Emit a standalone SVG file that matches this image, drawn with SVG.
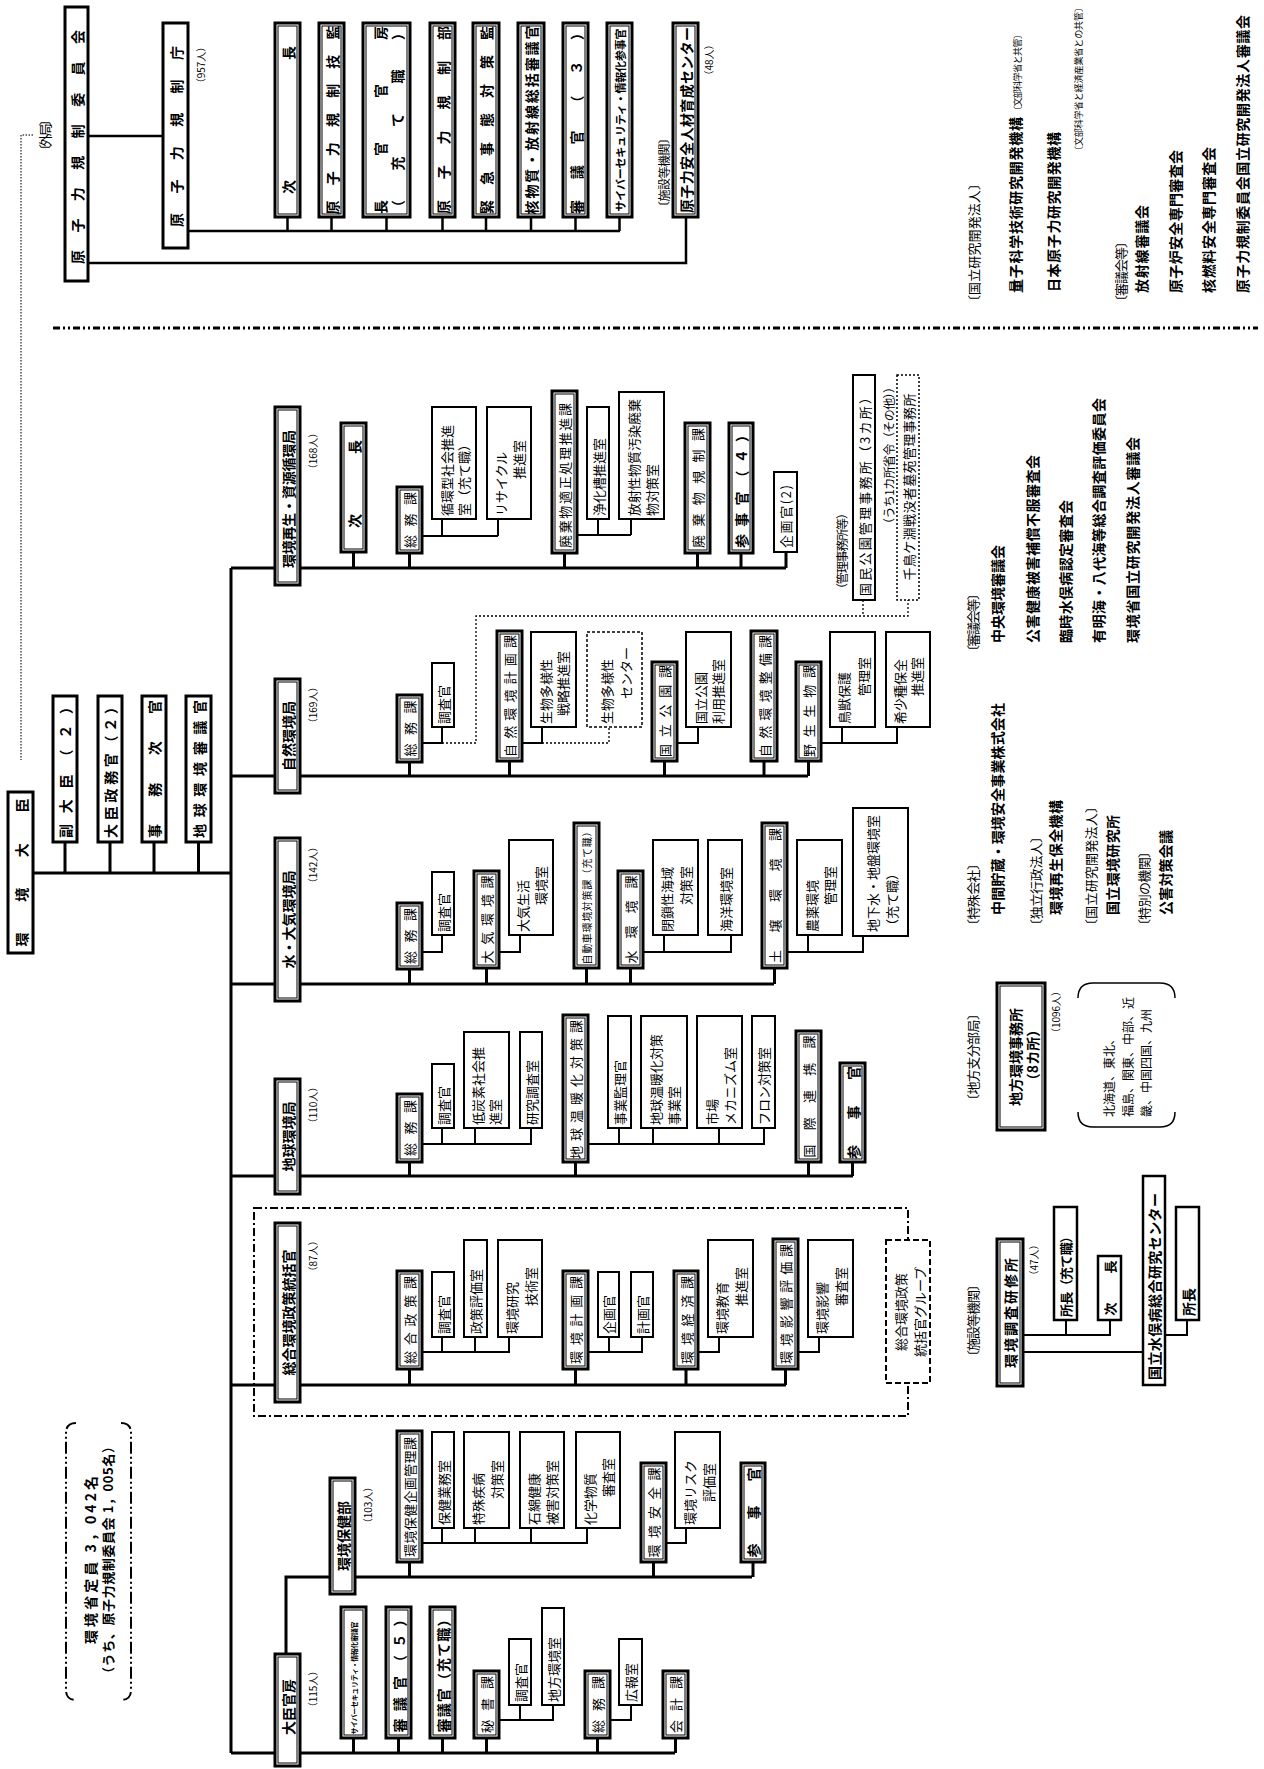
<svg xmlns="http://www.w3.org/2000/svg" width="1264" height="1769" viewBox="0 0 1264 1769">
<style>
text{font-family:"Noto Sans CJK JP","Noto Sans CJK SC",sans-serif;font-size:13px;fill:#000;text-anchor:middle;dominant-baseline:central}
.b{font-weight:bold}
.s{text-anchor:start}
.e{text-anchor:end}
.f14{font-size:14px}
.f12{font-size:12px}
.f11{font-size:11px}
.f10{font-size:10px}
.f9{font-size:9px}
.f7{font-size:7px}
.k{fill:#fff;stroke:#000;stroke-width:3}
.k2{fill:#fff;stroke:#000;stroke-width:2.5}
.in{fill:none;stroke:#000;stroke-width:1}
.r{fill:#fff;stroke:#000;stroke-width:2}
.dr{fill:#fff;stroke:#000;stroke-width:1.5;stroke-dasharray:3 2}
.w3{stroke:#000;stroke-width:3;fill:none}
.w25{stroke:#000;stroke-width:2.5;fill:none}
.w2{stroke:#000;stroke-width:2;fill:none}
.dot{stroke:#000;stroke-width:1.3;stroke-dasharray:2 2;fill:none}
</style>
<rect width="1264" height="1769" fill="#fff"/>

<g id="connectors">
<path class="w25" d="M88 136H163 M188 231H620 M287.5 217V231 M331.5 217V231 M386.5 217V231 M442.5 217V231 M486 217V231 M531 217V231 M575.5 217V231 M619.5 217V231 M88 263H686V217"/>
<path d="M33 135H21V760" stroke="#777" stroke-width="2" stroke-dasharray="1.5 1.5" fill="none"/>
<path class="w3" d="M33 873H231 M65 842V873 M110 842V873 M154 842V873 M198.5 842V873 M231 568V1753"/>
<path class="w3" d="M231 568H786 M231 776H808 M231 984H774 M231 1176H853 M231 1385H786 M231 1753H675 M286 1654V1577H752"/>
<path class="w3" d="M353.5 552V568 M409.5 553V568 M564.5 553V568 M697.5 553V568 M741 553V568 M786 552V568"/>
<path class="w3" d="M409.5 762V776 M509.5 761V776 M664.5 761V776 M764 761V776 M808.5 761V776"/>
<path class="w3" d="M409.5 969V984 M486.5 968V984 M586.5 968V984 M630.5 968V984 M774.5 968V984"/>
<path class="w3" d="M409.5 1162V1176 M575.5 1162V1176 M808.5 1162V1176 M852.5 1162V1176"/>
<path class="w3" d="M409.5 1369V1385 M575.5 1369V1385 M686 1369V1385 M785.5 1369V1385"/>
<path class="w3" d="M409.5 1562V1577 M653.5 1562V1577 M753 1562V1577"/>
<path class="w3" d="M353.5 1738V1753 M398.5 1738V1753 M442.5 1738V1753 M486.5 1738V1753 M597.5 1738V1753 M675.5 1738V1753"/>
<path class="w2" d="M422 536H498 M442 519V536 M498 519V536 M577 535H631 M598 519V535 M631 519V535"/>
<path class="w2" d="M422 743H442V727 M522 743H542V727 M677 743H698V727 M821 743H897V727 M842 727V743"/>
<path class="dot" d="M442 743H476V616H908V600 M863 600V616 M542 743H609V727"/>
<path class="w2" d="M422 952H442V935 M499 952H520V935 M643 952H731V935 M664 935V952 M787 952H863V936 M808 935V952"/>
<path class="w2" d="M422 1144H531V1128 M442 1128V1144 M475 1128V1144 M588 1144H764V1128 M619 1128V1144 M653 1128V1144 M719 1128V1144"/>
<path class="w2" d="M422 1352H509V1337 M442 1337V1352 M475 1337V1352 M588 1352H642V1337 M609 1337V1352 M698 1352H719V1337 M798 1352H819V1337"/>
<path class="w2" d="M422 1543H587V1528 M442 1528V1543 M475 1528V1543 M531 1528V1543 M666 1543H686V1528"/>
<path class="w2" d="M499 1720H553V1705 M520 1705V1720 M610 1720H631V1705"/>
<path class="w2" d="M1023 1335H1110V1320 M1066 1320V1335 M1023 1352H1143 M1165 1335H1187V1320"/>
</g>

<path d="M53 328H1258" stroke="#000" stroke-width="3" stroke-dasharray="7 3 2 3 2 3" fill="none"/>
<rect x="254" y="1208" width="654" height="208" fill="none" stroke="#000" stroke-width="2" stroke-dasharray="8 3 2 3"/>

<!-- Nuclear Regulation Authority -->
<text class="f13" textLength="44" transform="translate(44 135) rotate(-90)">〔外局〕</text>
<g id="n-nra"><rect class="k" x="65" y="7" width="23" height="274"/><text class="b f14" textLength="234" transform="translate(76.5 147) rotate(-90)">原子力規制委員会</text></g>
<g id="n-nrasec"><rect class="k" x="163" y="23" width="25" height="225"/><text class="b f14" textLength="181" transform="translate(175.5 136.5) rotate(-90)">原子力規制庁</text></g>
<text class="f10" transform="translate(200 65) rotate(-90)">（957人）</text>
<g id="n-nra-jicho"><rect class="k" x="275" y="23" width="25" height="194"/><rect class="in" x="278" y="26" width="19" height="188"/><text class="b f14" textLength="148" transform="translate(287.5 120) rotate(-90)">次長</text></g>
<g id="n-nra-gikan"><rect class="k" x="319" y="23" width="25" height="194"/><rect class="in" x="322" y="26" width="19" height="188"/><text class="b f14" textLength="189" transform="translate(331.5 120) rotate(-90)">原子力規制技監</text></g>
<g id="n-nra-kanbo"><rect class="k" x="363" y="23" width="47" height="194"/><rect class="in" x="366" y="26" width="41" height="188"/><text class="b f14" textLength="188" transform="translate(380 120) rotate(-90)">長官官房</text><text class="b f14" textLength="188" transform="translate(397 120) rotate(-90)">（充て職）</text></g>
<g id="n-nra-kiseibu"><rect class="k" x="430" y="23" width="25" height="194"/><rect class="in" x="433" y="26" width="19" height="188"/><text class="b f14" textLength="188" transform="translate(442.5 120) rotate(-90)">原子力規制部</text></g>
<g id="n-nra-kinkyu"><rect class="k" x="473" y="23" width="26" height="194"/><rect class="in" x="476" y="26" width="20" height="188"/><text class="b f14" textLength="188" transform="translate(486 120) rotate(-90)">緊急事態対策監</text></g>
<g id="n-nra-kaku"><rect class="k" x="518" y="23" width="26" height="194"/><rect class="in" x="521" y="26" width="20" height="188"/><text class="b f14" textLength="189" transform="translate(531 120) rotate(-90)">核物質・放射線総括審議官</text></g>
<g id="n-nra-shingikan"><rect class="k" x="563" y="23" width="25" height="194"/><rect class="in" x="566" y="26" width="19" height="188"/><text class="b f14" textLength="188" transform="translate(575.5 120) rotate(-90)">審議官（３）</text></g>
<g id="n-nra-cyber"><rect class="k" x="607" y="23" width="25" height="194"/><rect class="in" x="610" y="26" width="19" height="188"/><text class="b f11" textLength="183" transform="translate(619.5 120) rotate(-90)">サイバーセキュリティ・情報化参事官</text></g>
<text class="f12" textLength="81" transform="translate(663 172.5) rotate(-90)">〔施設等機関〕</text>
<g id="n-nra-center"><rect class="k" x="673" y="23" width="25" height="194"/><rect class="in" x="676" y="26" width="19" height="188"/><text class="b f14" textLength="186" transform="translate(685.5 120) rotate(-90)">原子力安全人材育成センター</text></g>
<text class="f10" transform="translate(708 60) rotate(-90)">（48人）</text>

<!-- Ministry top -->
<g id="n-minister"><rect class="k" x="8" y="792" width="25" height="161"/><text class="b f14" textLength="148" transform="translate(20.5 872.5) rotate(-90)">環境大臣</text></g>
<g id="n-vice"><rect class="k" x="53" y="696" width="24" height="146"/><text class="b f14" textLength="138" transform="translate(65 769) rotate(-90)">副大臣（２）</text></g>
<g id="n-seimukan"><rect class="k" x="98" y="696" width="24" height="146"/><text class="b f14" textLength="138" transform="translate(110 769) rotate(-90)">大臣政務官（２）</text></g>
<g id="n-jikan"><rect class="k" x="142" y="696" width="24" height="146"/><text class="b f14" textLength="138" transform="translate(154 769) rotate(-90)">事務次官</text></g>
<g id="n-chikyu-shingikan"><rect class="k" x="186" y="696" width="25" height="146"/><text class="b f14" textLength="138" transform="translate(198.5 769) rotate(-90)">地球環境審議官</text></g>

<!-- Bureaus -->
<g id="b-saisei"><rect class="k" x="275" y="407" width="25" height="178"/><rect class="in" x="278" y="410" width="19" height="172"/><text class="b f14" textLength="138" transform="translate(287.5 499) rotate(-90)">環境再生・資源循環局</text></g>
<text class="f10" transform="translate(312 451) rotate(-90)">（168人）</text>
<g id="b-shizen"><rect class="k" x="275" y="679" width="25" height="114"/><rect class="in" x="278" y="682" width="19" height="108"/><text class="b f14" transform="translate(287.5 736) rotate(-90)">自然環境局</text></g>
<text class="f10" transform="translate(312 705) rotate(-90)">（169人）</text>
<g id="b-mizu"><rect class="k" x="275" y="838" width="25" height="163"/><rect class="in" x="278" y="841" width="19" height="157"/><text class="b f14" transform="translate(287.5 919.5) rotate(-90)">水・大気環境局</text></g>
<text class="f10" transform="translate(312 865) rotate(-90)">（142人）</text>
<g id="b-chikyu"><rect class="k" x="275" y="1079" width="25" height="115"/><rect class="in" x="278" y="1082" width="19" height="109"/><text class="b f14" transform="translate(287.5 1136.5) rotate(-90)">地球環境局</text></g>
<text class="f10" transform="translate(312 1105) rotate(-90)">（110人）</text>
<g id="b-sogo"><rect class="k" x="275" y="1223" width="25" height="179"/><rect class="in" x="278" y="1226" width="19" height="173"/><text class="b f14" transform="translate(287.5 1312.5) rotate(-90)">総合環境政策統括官</text></g>
<text class="f10" transform="translate(312 1256) rotate(-90)">（87人）</text>
<g id="b-hoken"><rect class="k" x="330" y="1478" width="25" height="116"/><rect class="in" x="333" y="1481" width="19" height="110"/><text class="b f14" transform="translate(342.5 1536) rotate(-90)">環境保健部</text></g>
<text class="f10" transform="translate(367 1505) rotate(-90)">（103人）</text>
<g id="b-kanbo"><rect class="k" x="275" y="1654" width="25" height="112"/><rect class="in" x="278" y="1657" width="19" height="106"/><text class="b f14" transform="translate(287.5 1707) rotate(-90)">大臣官房</text></g>
<text class="f10" transform="translate(312 1689) rotate(-90)">（115人）</text>

<!-- Row 1 -->
<g id="r1-jicho"><rect class="k" x="341" y="423" width="25" height="129"/><rect class="in" x="344" y="426" width="19" height="123"/><text class="b f14" textLength="88" transform="translate(353.5 484) rotate(-90)">次長</text></g>
<g id="r1-somu"><rect class="k" x="397" y="487" width="25" height="66"/><rect class="in" x="400" y="490" width="19" height="60"/><text textLength="56" transform="translate(409.5 520) rotate(-90)">総務課</text></g>
<g id="r1-junkan"><rect class="r" x="432" y="407" width="44" height="112"/><text class="s" transform="translate(446 516) rotate(-90)">循環型社会推進</text><text class="s" transform="translate(463 516) rotate(-90)">室（充て職）</text></g>
<g id="r1-recycle"><rect class="r" x="487" y="407" width="44" height="112"/><text class="s" transform="translate(500 516) rotate(-90)">リサイクル</text><text class="e" transform="translate(518 440) rotate(-90)">推進室</text></g>
<g id="r1-tekisei"><rect class="k" x="552" y="391" width="25" height="162"/><rect class="in" x="555" y="394" width="19" height="156"/><text textLength="145" transform="translate(564.5 475.5) rotate(-90)">廃棄物適正処理推進課</text></g>
<g id="r1-jokaso"><rect class="r" x="587" y="407" width="22" height="112"/><text class="s" transform="translate(598 516) rotate(-90)">浄化槽推進室</text></g>
<g id="r1-hoshasei"><rect class="r" x="619" y="392" width="45" height="127"/><text class="s" transform="translate(633 516) rotate(-90)">放射性物質汚染廃棄</text><text class="s" transform="translate(651 516) rotate(-90)">物対策室</text></g>
<g id="r1-kisei"><rect class="k" x="685" y="423" width="25" height="130"/><rect class="in" x="688" y="426" width="19" height="124"/><text textLength="120" transform="translate(697.5 488) rotate(-90)">廃棄物規制課</text></g>
<g id="r1-sanjikan"><rect class="k" x="729" y="423" width="24" height="130"/><rect class="in" x="732" y="426" width="18" height="124"/><text class="b f14" textLength="120" transform="translate(741 488) rotate(-90)">参事官（４）</text></g>
<g id="r1-kikakukan"><rect class="r" x="774" y="472" width="23" height="80"/><text class="s" textLength="63" transform="translate(785.5 548) rotate(-90)">企画官(2)</text></g>
<text class="f12" textLength="88" transform="translate(841 551) rotate(-90)">（管理事務所等）</text>
<g id="r1-kokumin"><rect class="r" x="853" y="375" width="22" height="225"/><text class="s" textLength="205" transform="translate(864 596) rotate(-90)">国民公園管理事務所（3カ所）</text></g>
<text class="e f12" textLength="149" transform="translate(888 381) rotate(-90)">（うち1カ所省令（その他））</text>
<g id="r1-chidori"><rect x="897" y="375" width="22" height="225" fill="#fff" stroke="#000" stroke-width="1.5" stroke-dasharray="2 2"/><text textLength="187" transform="translate(908 487) rotate(-90)">千鳥ケ淵戦没者墓苑管理事務所</text></g>

<!-- Row 2 -->
<g id="r2-somu"><rect class="k" x="397" y="695" width="25" height="67"/><rect class="in" x="400" y="698" width="19" height="61"/><text textLength="56" transform="translate(409.5 728.5) rotate(-90)">総務課</text></g>
<g id="r2-chosakan"><rect class="r" x="432" y="663" width="22" height="64"/><text class="s" transform="translate(443 724) rotate(-90)">調査官</text></g>
<g id="r2-keikaku"><rect class="k" x="497" y="631" width="25" height="130"/><rect class="in" x="500" y="634" width="19" height="124"/><text textLength="122" transform="translate(509.5 696) rotate(-90)">自然環境計画課</text></g>
<g id="r2-senryaku"><rect class="r" x="531" y="632" width="45" height="95"/><text class="s" transform="translate(545 724) rotate(-90)">生物多様性</text><text class="s" transform="translate(562 716) rotate(-90)">戦略推進室</text></g>
<g id="r2-center"><rect class="dr" x="587" y="632" width="55" height="95"/><text class="s" transform="translate(606 724) rotate(-90)">生物多様性</text><text class="e" transform="translate(625 647) rotate(-90)">センター</text></g>
<g id="r2-kokuritsu"><rect class="k" x="652" y="662" width="25" height="99"/><rect class="in" x="655" y="665" width="19" height="93"/><text textLength="92" transform="translate(664.5 711) rotate(-90)">国立公園課</text></g>
<g id="r2-riyo"><rect class="r" x="686" y="632" width="45" height="95"/><text class="s" transform="translate(700 724) rotate(-90)">国立公園</text><text class="s" transform="translate(717 724) rotate(-90)">利用推進室</text></g>
<g id="r2-seibi"><rect class="k" x="751" y="631" width="26" height="130"/><rect class="in" x="754" y="634" width="20" height="124"/><text textLength="122" transform="translate(764 696) rotate(-90)">自然環境整備課</text></g>
<g id="r2-yasei"><rect class="k" x="796" y="662" width="25" height="99"/><rect class="in" x="799" y="665" width="19" height="93"/><text textLength="92" transform="translate(808.5 711) rotate(-90)">野生生物課</text></g>
<g id="r2-chojyu"><rect class="r" x="830" y="632" width="45" height="95"/><text class="s" transform="translate(843 724) rotate(-90)">鳥獣保護</text><text class="e" transform="translate(863 657) rotate(-90)">管理室</text></g>
<g id="r2-kisho"><rect class="r" x="886" y="632" width="44" height="95"/><text class="s" transform="translate(899 724) rotate(-90)">希少種保全</text><text class="e" transform="translate(916 657) rotate(-90)">推進室</text></g>

<!-- Row 3 -->
<g id="r3-somu"><rect class="k" x="397" y="903" width="25" height="66"/><rect class="in" x="400" y="906" width="19" height="60"/><text textLength="56" transform="translate(409.5 936) rotate(-90)">総務課</text></g>
<g id="r3-chosakan"><rect class="r" x="432" y="872" width="22" height="63"/><text class="s" transform="translate(443 932) rotate(-90)">調査官</text></g>
<g id="r3-taiki"><rect class="k" x="474" y="871" width="25" height="97"/><rect class="in" x="477" y="874" width="19" height="91"/><text textLength="88" transform="translate(486.5 919.5) rotate(-90)">大気環境課</text></g>
<g id="r3-seikatsu"><rect class="r" x="509" y="840" width="44" height="95"/><text class="s" transform="translate(522 932) rotate(-90)">大気生活</text><text class="e" transform="translate(540 866) rotate(-90)">環境室</text></g>
<g id="r3-jidosha"><rect class="k" x="574" y="823" width="25" height="145"/><rect class="in" x="577" y="826" width="19" height="139"/><text class="f10" textLength="138" transform="translate(586.5 895.5) rotate(-90)">自動車環境対策課（充て職）</text></g>
<g id="r3-mizu"><rect class="k" x="618" y="871" width="25" height="97"/><rect class="in" x="621" y="874" width="19" height="91"/><text textLength="88" transform="translate(630.5 919.5) rotate(-90)">水環境課</text></g>
<g id="r3-heisa"><rect class="r" x="653" y="840" width="45" height="95"/><text class="s" transform="translate(666 932) rotate(-90)">閉鎖性海域</text><text class="e" transform="translate(685 866) rotate(-90)">対策室</text></g>
<g id="r3-kaiyo"><rect class="r" x="708" y="840" width="34" height="95"/><text class="s" transform="translate(725 932) rotate(-90)">海洋環境室</text></g>
<g id="r3-dojo"><rect class="k" x="762" y="823" width="25" height="145"/><rect class="in" x="765" y="826" width="19" height="139"/><text textLength="135" transform="translate(774.5 895.5) rotate(-90)">土壌環境課</text></g>
<g id="r3-noyaku"><rect class="r" x="797" y="840" width="45" height="95"/><text class="s" transform="translate(811 932) rotate(-90)">農薬環境</text><text class="e" transform="translate(829 866) rotate(-90)">管理室</text></g>
<g id="r3-chika"><rect class="r" x="853" y="808" width="55" height="128"/><text class="s" transform="translate(872 932) rotate(-90)">地下水・地盤環境室</text><text class="s" transform="translate(891 932) rotate(-90)">（充て職）</text></g>

<!-- Row 4 -->
<g id="r4-somu"><rect class="k" x="397" y="1094" width="25" height="68"/><rect class="in" x="400" y="1097" width="19" height="62"/><text textLength="56" transform="translate(409.5 1128) rotate(-90)">総務課</text></g>
<g id="r4-chosakan"><rect class="r" x="432" y="1064" width="22" height="64"/><text class="s" transform="translate(443 1125) rotate(-90)">調査官</text></g>
<g id="r4-teitanso"><rect class="r" x="464" y="1032" width="45" height="96"/><text class="s" transform="translate(477 1125) rotate(-90)">低炭素社会推</text><text class="s" transform="translate(494 1125) rotate(-90)">進室</text></g>
<g id="r4-kenkyu"><rect class="r" x="520" y="1032" width="22" height="96"/><text class="s" transform="translate(531 1125) rotate(-90)">研究調査室</text></g>
<g id="r4-ondanka"><rect class="k" x="563" y="1015" width="25" height="147"/><rect class="in" x="566" y="1018" width="19" height="141"/><text textLength="139" transform="translate(575.5 1089.5) rotate(-90)">地球温暖化対策課</text></g>
<g id="r4-kanri"><rect class="r" x="608" y="1016" width="23" height="112"/><text class="s" transform="translate(619.5 1125) rotate(-90)">事業監理官</text></g>
<g id="r4-jigyo"><rect class="r" x="641" y="1016" width="46" height="112"/><text class="s" transform="translate(655 1125) rotate(-90)">地球温暖化対策</text><text class="s" transform="translate(673 1125) rotate(-90)">事業室</text></g>
<g id="r4-shijo"><rect class="r" x="697" y="1016" width="45" height="112"/><text class="s" transform="translate(711 1125) rotate(-90)">市場</text><text class="s" transform="translate(729 1125) rotate(-90)">メカニズム室</text></g>
<g id="r4-furon"><rect class="r" x="752" y="1016" width="23" height="112"/><text class="s" transform="translate(763.5 1125) rotate(-90)">フロン対策室</text></g>
<g id="r4-kokusai"><rect class="k" x="796" y="1031" width="25" height="131"/><rect class="in" x="799" y="1034" width="19" height="125"/><text textLength="122" transform="translate(808.5 1096.5) rotate(-90)">国際連携課</text></g>
<g id="r4-sanjikan"><rect class="k" x="840" y="1063" width="25" height="99"/><rect class="in" x="843" y="1066" width="19" height="93"/><text class="b f14" textLength="93" transform="translate(852.5 1112.5) rotate(-90)">参事官</text></g>

<!-- Row 5 -->
<g id="r5-sogo"><rect class="k" x="397" y="1271" width="25" height="98"/><rect class="in" x="400" y="1274" width="19" height="92"/><text textLength="88" transform="translate(409.5 1320) rotate(-90)">総合政策課</text></g>
<g id="r5-chosakan"><rect class="r" x="432" y="1272" width="22" height="65"/><text class="s" transform="translate(443 1334) rotate(-90)">調査官</text></g>
<g id="r5-hyoka"><rect class="r" x="464" y="1240" width="23" height="97"/><text class="s" transform="translate(475.5 1334) rotate(-90)">政策評価室</text></g>
<g id="r5-kenkyu"><rect class="r" x="498" y="1240" width="44" height="97"/><text class="s" transform="translate(511 1334) rotate(-90)">環境研究</text><text class="e" transform="translate(530 1267) rotate(-90)">技術室</text></g>
<g id="r5-keikaku"><rect class="k" x="563" y="1271" width="25" height="98"/><rect class="in" x="566" y="1274" width="19" height="92"/><text textLength="88" transform="translate(575.5 1320) rotate(-90)">環境計画課</text></g>
<g id="r5-kikakukan"><rect class="r" x="598" y="1272" width="21" height="65"/><text class="s" transform="translate(608.5 1334) rotate(-90)">企画官</text></g>
<g id="r5-keikakukan"><rect class="r" x="631" y="1272" width="22" height="65"/><text class="s" transform="translate(642 1334) rotate(-90)">計画官</text></g>
<g id="r5-keizai"><rect class="k" x="674" y="1271" width="24" height="98"/><rect class="in" x="677" y="1274" width="18" height="92"/><text textLength="88" transform="translate(686 1320) rotate(-90)">環境経済課</text></g>
<g id="r5-kyoiku"><rect class="r" x="708" y="1240" width="45" height="97"/><text class="s" transform="translate(721 1334) rotate(-90)">環境教育</text><text class="e" transform="translate(740 1267) rotate(-90)">推進室</text></g>
<g id="r5-eikyo"><rect class="k" x="773" y="1239" width="25" height="130"/><rect class="in" x="776" y="1242" width="19" height="124"/><text textLength="120" transform="translate(785.5 1304) rotate(-90)">環境影響評価課</text></g>
<g id="r5-shinsa"><rect class="r" x="808" y="1240" width="45" height="97"/><text class="s" transform="translate(821 1334) rotate(-90)">環境影響</text><text class="e" transform="translate(840 1267) rotate(-90)">審査室</text></g>
<g id="r5-group"><rect x="886" y="1240" width="44" height="143" fill="#fff" stroke="#000" stroke-width="2" stroke-dasharray="6 3"/><text transform="translate(900 1312) rotate(-90)">総合環境政策</text><text transform="translate(919 1312) rotate(-90)">統括官グループ</text></g>

<!-- Row 6 -->
<g id="r6-kikaku"><rect class="k" x="397" y="1431" width="25" height="131"/><rect class="in" x="400" y="1434" width="19" height="125"/><text textLength="120" transform="translate(409.5 1497) rotate(-90)">環境保健企画管理課</text></g>
<g id="r6-gyomu"><rect class="r" x="432" y="1432" width="22" height="96"/><text class="s" transform="translate(443 1525) rotate(-90)">保健業務室</text></g>
<g id="r6-tokushu"><rect class="r" x="464" y="1432" width="45" height="96"/><text class="s" transform="translate(477 1525) rotate(-90)">特殊疾病</text><text class="e" transform="translate(496 1460) rotate(-90)">対策室</text></g>
<g id="r6-ishiwata"><rect class="r" x="520" y="1432" width="44" height="96"/><text class="s" transform="translate(533 1525) rotate(-90)">石綿健康</text><text class="s" transform="translate(551 1525) rotate(-90)">被害対策室</text></g>
<g id="r6-kagaku"><rect class="r" x="576" y="1432" width="44" height="96"/><text class="s" transform="translate(589 1525) rotate(-90)">化学物質</text><text class="e" transform="translate(607 1458) rotate(-90)">審査室</text></g>
<g id="r6-anzen"><rect class="k" x="641" y="1463" width="25" height="99"/><rect class="in" x="644" y="1466" width="19" height="93"/><text textLength="90" transform="translate(653.5 1512.5) rotate(-90)">環境安全課</text></g>
<g id="r6-risk"><rect class="r" x="675" y="1432" width="45" height="96"/><text class="s" transform="translate(689 1525) rotate(-90)">環境リスク</text><text class="e" transform="translate(708 1463) rotate(-90)">評価室</text></g>
<g id="r6-sanjikan"><rect class="k" x="741" y="1463" width="24" height="99"/><rect class="in" x="744" y="1466" width="18" height="93"/><text class="b f14" textLength="90" transform="translate(753 1512.5) rotate(-90)">参事官</text></g>

<!-- Row 7 -->
<g id="r7-cyber"><rect class="k" x="341" y="1607" width="25" height="131"/><rect class="in" x="344" y="1610" width="19" height="125"/><text class="b f7" textLength="113" transform="translate(353.5 1678) rotate(-90)">サイバーセキュリティ・情報化審議官</text></g>
<g id="r7-shingikan"><rect class="k" x="386" y="1607" width="25" height="131"/><rect class="in" x="389" y="1610" width="19" height="125"/><text class="b f14" textLength="120" transform="translate(398.5 1672.5) rotate(-90)">審議官（５）</text></g>
<g id="r7-shingikan2"><rect class="k" x="430" y="1607" width="25" height="131"/><rect class="in" x="433" y="1610" width="19" height="125"/><text class="b f14" textLength="120" transform="translate(442.5 1672.5) rotate(-90)">審議官（充て職）</text></g>
<g id="r7-hisho"><rect class="k" x="474" y="1671" width="25" height="67"/><rect class="in" x="477" y="1674" width="19" height="61"/><text textLength="57" transform="translate(486.5 1704.5) rotate(-90)">秘書課</text></g>
<g id="r7-chosakan"><rect class="r" x="509" y="1639" width="22" height="66"/><text class="s" transform="translate(520 1702) rotate(-90)">調査官</text></g>
<g id="r7-chiho"><rect class="r" x="542" y="1608" width="22" height="97"/><text class="s" transform="translate(553 1702) rotate(-90)">地方環境室</text></g>
<g id="r7-somu"><rect class="k" x="585" y="1671" width="25" height="67"/><rect class="in" x="588" y="1674" width="19" height="61"/><text textLength="57" transform="translate(597.5 1704.5) rotate(-90)">総務課</text></g>
<g id="r7-koho"><rect class="r" x="619" y="1639" width="23" height="66"/><text class="s" transform="translate(630.5 1702) rotate(-90)">広報室</text></g>
<g id="r7-kaikei"><rect class="k" x="663" y="1671" width="25" height="67"/><rect class="in" x="666" y="1674" width="19" height="61"/><text textLength="57" transform="translate(675.5 1704.5) rotate(-90)">会計課</text></g>

<!-- Staff total -->
<g id="staff">
<path d="M76 1423Q66 1423 66 1433V1690Q66 1700 76 1700 M121 1423Q131 1423 131 1433V1690Q131 1700 121 1700" fill="none" stroke="#000" stroke-width="2" stroke-dasharray="12 3 2 3 2 3"/>
<text class="b f14" textLength="168" transform="translate(90 1560) rotate(-90)">環境省定員 3，042名</text>
<text class="b f13" textLength="240" transform="translate(107 1560) rotate(-90)">（うち、原子力規制委員会 1，005名）</text>
</g>

<!-- Right lists: NRA -->
<text class="s" textLength="131" transform="translate(973 308) rotate(-90)">〔国立研究開発法人〕</text>
<text class="s b f14" textLength="176" transform="translate(1015 293) rotate(-90)">量子科学技術研究開発機構</text>
<text class="s f9" textLength="85" transform="translate(1017 115) rotate(-90)">〔文部科学省と共管〕</text>
<text class="s b f14" textLength="160" transform="translate(1053 292) rotate(-90)">日本原子力研究開発機構</text>
<text class="s f9" textLength="152" transform="translate(1078 155) rotate(-90)">〔文部科学省と経済産業省との共管〕</text>
<text class="s" textLength="73" transform="translate(1120 308) rotate(-90)">〔審議会等〕</text>
<text class="s b f14" textLength="88" transform="translate(1141 293) rotate(-90)">放射線審議会</text>
<text class="s b f14" textLength="143" transform="translate(1175 293) rotate(-90)">原子炉安全専門審査会</text>
<text class="s b f14" textLength="146" transform="translate(1208 293) rotate(-90)">核燃料安全専門審査会</text>
<text class="s b f14" textLength="278" transform="translate(1242 293) rotate(-90)">原子力規制委員会国立研究開発法人審議会</text>

<!-- Right lists: MOE councils -->
<text class="s" textLength="71" transform="translate(972 658) rotate(-90)">〔審議会等〕</text>
<text class="s b f14" textLength="98" transform="translate(997 643) rotate(-90)">中央環境審議会</text>
<text class="s b f14" textLength="188" transform="translate(1032 643) rotate(-90)">公害健康被害補償不服審査会</text>
<text class="s b f14" textLength="143" transform="translate(1065 643) rotate(-90)">臨時水俣病認定審査会</text>
<text class="s b f14" textLength="245" transform="translate(1098 643) rotate(-90)">有明海・八代海等総合調査評価委員会</text>
<text class="s b f14" textLength="206" transform="translate(1132 643) rotate(-90)">環境省国立研究開発法人審議会</text>

<text class="s" textLength="75" transform="translate(972 932) rotate(-90)">〔特殊会社〕</text>
<text class="s b f14" textLength="212" transform="translate(997 915) rotate(-90)">中間貯蔵・環境安全事業株式会社</text>
<text class="s" textLength="102" transform="translate(1035 932) rotate(-90)">〔独立行政法人〕</text>
<text class="s b f14" textLength="115" transform="translate(1055 915) rotate(-90)">環境再生保全機構</text>
<text class="s" textLength="132" transform="translate(1090 932) rotate(-90)">〔国立研究開発法人〕</text>
<text class="s b f14" textLength="100" transform="translate(1112 915) rotate(-90)">国立環境研究所</text>
<text class="s" textLength="87" transform="translate(1143 932) rotate(-90)">〔特別の機関〕</text>
<text class="s b f14" textLength="85" transform="translate(1165 915) rotate(-90)">公害対策会議</text>

<!-- Regional offices -->
<text textLength="100" transform="translate(972 1057) rotate(-90)">〔地方支分部局〕</text>
<g id="n-chiho"><rect class="k" x="997" y="983" width="48" height="147"/><rect class="in" x="1000" y="986" width="42" height="141"/><text class="b f14" transform="translate(1015 1057) rotate(-90)">地方環境事務所</text><text class="b f14" transform="translate(1032 1055) rotate(-90)">（8カ所）</text></g>
<text class="f10" transform="translate(1055 1012) rotate(-90)">（1096人）</text>
<g id="n-chiho-list">
<path d="M1078 998Q1078 983 1093 983H1160Q1175 983 1175 998 M1078 1112Q1078 1127 1093 1127H1160Q1175 1127 1175 1112" fill="none" stroke="#000" stroke-width="1.5"/>
<text class="s f12" transform="translate(1108 1117) rotate(-90)">北海道、東北、</text>
<text class="s f12" transform="translate(1127 1117) rotate(-90)">福島、関東、中部、近</text>
<text class="s f12" transform="translate(1145 1117) rotate(-90)">畿、中国四国、九州</text>
</g>

<!-- Facilities -->
<text textLength="85" transform="translate(972 1320.5) rotate(-90)">〔施設等機関〕</text>
<g id="n-kenshujo"><rect class="k" x="997" y="1239" width="26" height="147"/><rect class="in" x="1000" y="1242" width="20" height="141"/><text class="b f14" textLength="110" transform="translate(1010 1313) rotate(-90)">環境調査研修所</text></g>
<text class="f10" transform="translate(1033 1260) rotate(-90)">（47人）</text>
<g id="n-kenshujo-shocho"><rect class="k2" x="1054" y="1207" width="23" height="113"/><text class="b" textLength="87" transform="translate(1065.5 1273.5) rotate(-90)">所長（充て職）</text></g>
<g id="n-kenshujo-jicho"><rect class="k2" x="1098" y="1256" width="23" height="64"/><text class="b" textLength="55" transform="translate(1109.5 1288) rotate(-90)">次長</text></g>
<g id="n-minamata"><rect class="k2" x="1143" y="1176" width="22" height="209"/><text class="b f14" textLength="187" transform="translate(1154 1286.5) rotate(-90)">国立水俣病総合研究センター</text></g>
<g id="n-minamata-shocho"><rect class="k2" x="1176" y="1207" width="23" height="113"/><text class="s b f14" transform="translate(1187.5 1316) rotate(-90)">所長</text></g>
</svg>
